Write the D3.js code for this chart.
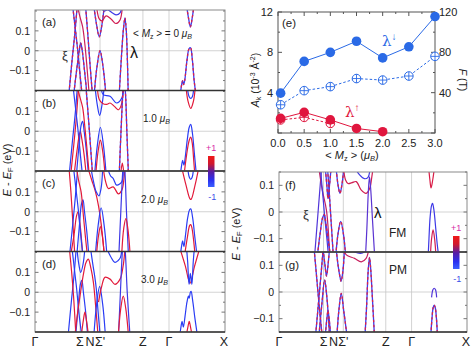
<!DOCTYPE html>
<html>
<head>
<meta charset="utf-8">
<script src="https://cdn.jsdelivr.net/npm/d3@7"></script>
<style>
  body { margin: 0; background: #fff; }
  svg text { font-family: "Liberation Sans", Arial, sans-serif; }
</style>
</head>
<body>
<div id="chart"></div>
<script>
//---------------- data ----------------
// path positions (0..100 along the k path) and labels
var kTicks = [0, 23.8, 29.1, 34.4, 57.1, 70.9, 100],
    kLabels = ['\u0393', '\u03A3', 'N', '\u03A3\'', 'Z', '\u0393', 'X'],
    kGrid = [23.8, 34.4, 57.1, 70.9];

var panelNames = ['(a)', '(b)', '(c)', '(d)'],
    momentLabels = ['0', '1.0', '2.0', '3.0'];

// bands: s = spin projection (-1 blue .. +1 red), p = [k, E(eV)]
var bandsA = [
  {s: 0, p: [[18.0,-0.21],[19.6,-0.05],[21.0,0.08],[22.3,0.22]]},
  {s: 0, p: [[20.0,0.22],[21.2,0.12],[22.4,0.02],[23.4,-0.08],[24.8,-0.21]]},
  {s: 0, p: [[20.6,-0.21],[22.0,-0.1],[23.4,0.0],[24.2,0.04],[25.0,0.0],[26.2,-0.1],[27.4,-0.21]]},
  {s: 0.7, p: [[22.6,0.22],[23.8,0.17],[25.2,0.12],[26.3,0.04],[27.3,-0.06],[28.6,-0.21]]},
  {s: 0, p: [[26.8,0.22],[28.2,0.05],[29.2,-0.08],[30.3,-0.21]]},
  {s: 0, p: [[31.4,-0.21],[32.8,-0.08],[34.4,0.0],[36.0,-0.08],[37.4,-0.21]]},
  {s: 0, p: [[31.2,0.22],[32.6,0.13],[34.0,0.07],[35.4,0.13],[36.6,0.22]]},
  {s: 0.8, p: [[32.6,0.22],[34.0,0.16],[35.4,0.15],[37.6,0.175],[40.2,0.16],[42.8,0.137],[45.0,0.155],[46.2,0.22]]},
  {s: -0.8, p: [[35.0,0.22],[36.5,0.2],[38.5,0.205],[41.0,0.19],[43.0,0.18],[45.0,0.19],[45.8,0.22]]},
  {s: -0.2, p: [[44.6,-0.21],[45.8,-0.02],[46.8,0.11],[47.6,0.165],[48.3,0.1],[49.3,-0.21]]},
  {s: 0, p: [[80.3,0.22],[81.3,0.16],[82.2,0.12],[83.1,0.16],[84.0,0.22]]},
  {s: 0, p: [[77.0,-0.21],[77.6,-0.17],[78.1,-0.15],[78.6,-0.17],[79.2,-0.15],[80.4,-0.05],[81.5,0.01],[82.3,0.015],[83.2,-0.04],[84.2,-0.15],[85.0,-0.21]]}
];

var bandsB = [
  {s: -1, p: [[18.2,-0.21],[19.8,-0.05],[21.2,0.08],[22.4,0.22]]},
  {s: 1, p: [[19.0,-0.21],[20.4,-0.08],[21.8,0.06],[23.0,0.22]]},
  {s: -1, p: [[20.2,0.22],[21.4,0.12],[22.6,0.02],[23.6,-0.08],[25.0,-0.21]]},
  {s: 1, p: [[20.8,-0.21],[22.2,-0.1],[23.4,-0.02],[24.0,0.0],[24.8,-0.04],[26.0,-0.12],[27.0,-0.21]]},
  {s: -1, p: [[22.0,-0.21],[23.2,-0.08],[24.4,0.03],[25.2,0.05],[26.0,0.0],[27.2,-0.1],[28.2,-0.21]]},
  {s: 1, p: [[22.4,0.22],[23.8,0.17],[25.2,0.12],[26.4,0.02],[27.4,-0.08],[28.6,-0.21]]},
  {s: 0, p: [[27.0,0.22],[28.4,0.05],[29.4,-0.08],[30.4,-0.21]]},
  {s: -1, p: [[31.6,-0.21],[33.0,-0.07],[34.6,0.02],[36.2,-0.07],[37.6,-0.21]]},
  {s: 1, p: [[32.2,-0.21],[33.4,-0.1],[34.6,-0.045],[35.8,-0.1],[37.0,-0.21]]},
  {s: -1, p: [[31.8,0.22],[33.0,0.13],[34.2,0.08],[35.4,0.13],[36.6,0.22]]},
  {s: 1, p: [[33.0,0.22],[34.0,0.16],[35.8,0.14],[37.9,0.135],[39.7,0.142],[42.0,0.125],[44.1,0.108],[45.6,0.13],[46.7,0.22]]},
  {s: -1, p: [[35.0,0.22],[36.1,0.184],[39.7,0.176],[43.2,0.142],[45.9,0.167],[46.7,0.22]]},
  {s: -0.3, p: [[44.6,-0.21],[45.6,0.02],[46.6,0.2],[47.2,0.24],[47.8,0.2],[48.6,0.0],[49.4,-0.21]]},
  {s: 1, p: [[45.4,-0.21],[46.2,-0.16],[47.0,-0.21]]},
  {s: -1, p: [[80.6,0.22],[81.5,0.175],[82.4,0.165],[83.3,0.175],[84.0,0.22]]},
  {s: 1, p: [[79.9,0.22],[81.0,0.15],[82.4,0.115],[83.8,0.15],[84.8,0.22]]},
  {s: -1, p: [[77.0,-0.21],[77.6,-0.17],[78.1,-0.146],[78.8,-0.17],[79.5,-0.13],[80.6,-0.04],[81.6,0.02],[82.4,0.035],[83.3,-0.01],[84.4,-0.12],[85.3,-0.21]]},
  {s: 1, p: [[79.0,-0.21],[80.2,-0.12],[81.6,-0.045],[82.4,-0.03],[83.2,-0.06],[84.0,-0.15],[84.5,-0.21]]}
];

var bandsC = [
  {s: 1, p: [[18.0,0.22],[19.0,0.1],[20.0,-0.05],[21.0,-0.21]]},
  {s: -1, p: [[18.4,-0.21],[20.0,-0.06],[21.4,0.08],[22.6,0.22]]},
  {s: 1, p: [[19.0,-0.21],[20.6,-0.12],[22.0,-0.02],[22.8,0.0],[23.8,-0.06],[25.2,-0.21]]},
  {s: -1, p: [[20.4,0.22],[21.6,0.12],[22.8,0.02],[23.8,-0.08],[25.2,-0.21]]},
  {s: -1, p: [[22.2,-0.21],[23.4,-0.08],[24.6,0.04],[25.4,0.06],[26.2,0.0],[27.4,-0.1],[28.4,-0.21]]},
  {s: 1, p: [[22.0,0.22],[23.0,0.16],[24.4,0.1],[25.6,-0.02],[26.6,-0.12],[27.6,-0.21]]},
  {s: 1, p: [[28.0,0.22],[30.0,0.16],[32.0,0.1],[33.6,0.03],[35.0,-0.06],[36.6,-0.21]]},
  {s: -1, p: [[29.6,0.22],[31.0,0.15],[32.4,0.1],[33.8,0.08],[35.0,0.12],[35.8,0.22]]},
  {s: -1, p: [[32.0,-0.21],[33.4,-0.07],[35.0,0.02],[36.6,-0.07],[38.0,-0.21]]},
  {s: 1, p: [[32.6,-0.21],[33.6,-0.12],[34.6,-0.075],[35.6,-0.12],[36.6,-0.21]]},
  {s: 1, p: [[36.1,0.22],[37.4,0.15],[38.8,0.117],[41.4,0.125],[44.1,0.09],[46.0,0.11],[47.0,0.16],[47.6,0.22]]},
  {s: -1, p: [[38.4,0.22],[40.0,0.18],[41.4,0.167],[43.2,0.134],[45.9,0.15],[46.7,0.22]]},
  {s: -0.8, p: [[44.4,-0.21],[45.4,0.0],[46.4,0.2],[47.0,0.26],[47.6,0.2],[48.4,0.0],[49.4,-0.21]]},
  {s: 1, p: [[45.9,-0.21],[47.0,-0.08],[48.1,-0.035],[49.2,-0.09],[50.3,-0.21]]},
  {s: -1, p: [[80.8,0.22],[81.6,0.175],[82.4,0.163],[83.2,0.175],[83.9,0.22]]},
  {s: 1, p: [[77.7,0.22],[80.0,0.13],[82.0,0.065],[82.6,0.062],[84.6,0.13],[86.6,0.22]]},
  {s: -1, p: [[77.0,-0.21],[77.6,-0.17],[78.1,-0.146],[78.8,-0.175],[79.6,-0.12],[80.8,-0.03],[81.8,0.01],[82.4,0.015],[83.4,-0.03],[84.6,-0.13],[85.6,-0.21]]},
  {s: 1, p: [[79.3,-0.21],[80.6,-0.13],[81.8,-0.07],[82.4,-0.065],[83.0,-0.08],[84.0,-0.15],[84.6,-0.21]]}
];

var bandsD = [
  {s: -1, p: [[17.6,-0.21],[19.2,-0.05],[20.6,0.08],[21.8,0.22]]},
  {s: 1, p: [[18.2,0.22],[19.4,0.1],[20.4,-0.02],[21.6,-0.21]]},
  {s: -1, p: [[19.6,0.22],[20.8,0.12],[22.0,0.02],[23.2,-0.1],[24.6,-0.21]]},
  {s: -1, p: [[21.6,-0.21],[22.8,-0.08],[24.0,0.04],[24.8,0.06],[25.6,0.0],[26.8,-0.1],[27.8,-0.21]]},
  {s: -1, p: [[22.2,0.22],[23.2,0.14],[24.2,0.1],[25.4,0.14],[26.4,0.22]]},
  {s: 1, p: [[21.2,-0.21],[22.6,-0.1],[23.8,-0.02],[25.6,0.09],[27.0,0.15],[28.2,0.167],[29.6,0.12],[30.9,0.05],[32.0,-0.06],[33.3,-0.21]]},
  {s: 1, p: [[24.6,-0.21],[25.6,-0.14],[26.4,-0.1],[27.2,-0.14],[28.2,-0.21]]},
  {s: -1, p: [[29.4,0.22],[30.6,0.14],[31.6,0.08],[32.4,0.02],[33.4,-0.1],[34.4,-0.21]]},
  {s: -1, p: [[31.2,-0.21],[32.6,-0.06],[34.2,0.03],[35.8,-0.06],[37.2,-0.21]]},
  {s: 1, p: [[33.6,-0.05],[35.3,0.03],[37.0,0.075],[39.7,0.066],[42.3,0.04],[45.0,0.066],[46.6,0.13],[47.6,0.22]]},
  {s: -1, p: [[38.0,0.22],[40.0,0.18],[42.3,0.15],[44.0,0.16],[45.2,0.175],[46.0,0.22]]},
  {s: -0.8, p: [[44.2,-0.21],[45.2,0.0],[46.2,0.2],[47.0,0.28],[47.8,0.2],[48.8,0.0],[50.2,-0.21]]},
  {s: 1, p: [[44.1,-0.21],[45.4,-0.08],[46.7,-0.02],[48.0,-0.08],[49.4,-0.21]]},
  {s: 1, p: [[76.7,0.22],[79.6,0.13],[82.0,0.045],[84.4,0.13],[87.1,0.22]]},
  {s: -1, p: [[80.2,0.22],[80.8,0.15],[81.5,0.04],[82.2,0.095],[83.0,0.04],[83.7,0.15],[84.3,0.22]]},
  {s: -1, p: [[76.7,-0.21],[77.3,-0.17],[77.8,-0.146],[78.5,-0.175],[79.4,-0.12],[80.4,-0.05],[81.2,-0.02],[81.6,-0.03],[82.2,0.0],[82.6,0.005],[83.4,-0.04],[84.6,-0.13],[85.8,-0.21]]},
  {s: 1, p: [[80.2,-0.21],[81.0,-0.17],[81.6,-0.146],[82.2,-0.17],[83.0,-0.21]]}
];

var bandsF = [
  {s: -0.6, p: [[19.1,-0.16],[20.9,0.0],[22.7,0.16]]},
  {s: 0.6, p: [[21.4,0.16],[23.2,0.08],[25.4,0.005],[27.1,-0.16]]},
  {s: -0.7, p: [[22.2,0.16],[23.6,0.05],[24.6,-0.03],[25.6,-0.1],[26.4,-0.16]]},
  {s: 0, p: [[20.6,-0.16],[22.0,-0.08],[23.4,-0.02],[24.2,-0.01],[25.2,-0.05],[26.6,-0.12],[27.4,-0.16]]},
  {s: -0.2, p: [[24.8,0.16],[25.6,0.1],[26.2,0.05],[27.0,0.1],[27.8,0.16]]},
  {s: 0.2, p: [[26.0,0.16],[27.0,0.06],[28.0,-0.05],[29.0,-0.16]]},
  {s: 0, p: [[30.4,-0.16],[31.6,-0.08],[33.0,-0.035],[34.4,-0.08],[35.6,-0.16]]},
  {s: -0.3, p: [[30.6,0.16],[31.6,0.1],[32.6,0.07],[33.6,0.1],[34.6,0.16]]},
  {s: 0.8, p: [[34.6,0.16],[35.6,0.12],[36.9,0.107],[39.0,0.11],[41.3,0.114],[44.0,0.082],[46.6,0.07],[48.6,0.09],[49.6,0.13],[50.2,0.16]]},
  {s: -0.8, p: [[41.0,0.16],[43.0,0.14],[45.6,0.125],[47.6,0.13],[48.6,0.16]]},
  {s: -0.5, p: [[46.3,-0.16],[47.0,-0.06],[47.8,0.08],[48.4,0.132],[49.0,0.09],[50.0,-0.03],[51.1,-0.16]]},
  {s: 0.9, p: [[80.1,0.16],[80.7,0.12],[81.3,0.09],[82.2,0.12],[83.0,0.16]]},
  {s: -0.8, p: [[79.8,-0.16],[80.2,-0.1],[80.8,-0.02],[81.6,0.025],[82.1,0.032],[82.8,0.01],[83.8,-0.06],[84.6,-0.12],[85.3,-0.16]]},
  {s: 0.8, p: [[81.0,-0.16],[81.6,-0.1],[82.4,-0.067],[83.2,-0.1],[83.9,-0.16]]}
];

var bandsG = [
  {s: 0, p: [[18.8,0.16],[20.2,0.05],[21.6,-0.06],[23.0,-0.16]]},
  {s: 0, p: [[19.6,-0.16],[21.0,-0.05],[22.4,0.06],[23.6,0.16]]},
  {s: 0.2, p: [[21.4,-0.16],[23.0,-0.04],[24.4,0.045],[25.6,-0.02],[27.0,-0.16]]},
  {s: 0, p: [[23.6,0.16],[24.6,0.1],[25.4,0.06],[26.2,0.1],[27.0,0.16]]},
  {s: 0, p: [[24.8,-0.16],[25.6,-0.1],[26.2,-0.07],[26.8,-0.1],[27.6,-0.16]]},
  {s: 0, p: [[31.0,-0.16],[32.0,-0.07],[33.3,-0.005],[34.6,-0.07],[36.3,-0.16]]},
  {s: 0, p: [[30.6,0.16],[31.6,0.1],[32.8,0.05],[33.2,0.04],[34.2,0.08],[35.0,0.16]]},
  {s: 0.7, p: [[34.8,0.16],[36.0,0.139],[40.4,0.126],[44.0,0.113],[46.6,0.126],[48.0,0.16]]},
  {s: -0.7, p: [[38.0,0.16],[40.4,0.15],[43.6,0.145],[45.6,0.15],[46.6,0.16]]},
  {s: -0.3, p: [[46.0,-0.16],[46.8,-0.06],[47.7,0.08],[48.4,0.13],[49.0,0.09],[50.0,-0.03],[51.0,-0.16]]},
  {s: -0.6, p: [[81.6,-0.02],[82.3,0.008],[83.0,0.014],[83.7,0.008],[84.3,-0.02]]},
  {s: -0.3, p: [[81.2,-0.16],[81.8,-0.1],[82.4,-0.06],[83.0,-0.049],[83.6,-0.06],[84.2,-0.1],[84.7,-0.16]]}
];

// panel (e): Fermi surface area A_k (1e-3 A^-2) vs <Mz>
var mzDown = [0.05, 0.5, 1.0, 1.5, 2.0, 2.5, 3.0],
    akDown = [3.95, 7.1, 8.0, 9.1, 7.45, 8.55, 11.55],
    akDownPM = [2.8, 4.2, 4.6, 5.4, 5.25, 5.65, 7.6],
    mzUp = [0.05, 0.5, 1.0, 1.5, 2.0],
    akUp = [1.45, 2.05, 1.3, 0.45, 0.13],
    mzUpPM = [0.05, 0.5, 1.0],
    akUpPM = [1.3, 1.55, 0.95];
var eXTicks = [0, 0.5, 1.0, 1.5, 2.0, 2.5, 3.0],
    eYTicks = [4, 8, 12],
    fTicks = [40, 80, 120];

//---------------- drawing ----------------
var W = 474, H = 351;
var svg = d3.select('#chart').append('svg')
    .attr('width', W).attr('height', H);
var defs = svg.append('defs');

var blue = '#2f3cf2', red = '#e2183a', magenta = '#d62aa6';
var spinColor = d3.scaleLinear().domain([-1, 0, 1])
    .range(['#2a3cf4', '#8a2ab0', '#e21a3a']);

var grad = defs.append('linearGradient').attr('id', 'cbar')
    .attr('x1', 0).attr('y1', 0).attr('x2', 0).attr('y2', 1);
grad.append('stop').attr('offset', '0%').attr('stop-color', '#f01818');
grad.append('stop').attr('offset', '25%').attr('stop-color', '#d0182e');
grad.append('stop').attr('offset', '50%').attr('stop-color', '#5a1ca0');
grad.append('stop').attr('offset', '78%').attr('stop-color', '#2a30f0');
grad.append('stop').attr('offset', '100%').attr('stop-color', '#3a60ff');

var clipCount = 0;

function drawBandPanel(bands, x0, x1, top, bottom, eDomain, eTicks, eMinor, isFirst) {
    var kx = d3.scaleLinear().domain([0, 100]).range([x0, x1 - 1]);
    var ey = d3.scaleLinear().domain(eDomain).range([bottom, top]);
    var g = svg.append('g');
    var id = 'clip' + (clipCount++);
    defs.append('clipPath').attr('id', id).append('rect')
        .attr('x', x0).attr('y', top).attr('width', x1 - x0).attr('height', bottom - top);

    // grid
    g.append('line').attr('x1', x0).attr('x2', x1)
        .attr('y1', ey(0)).attr('y2', ey(0))
        .attr('stroke', '#c8c8c8').attr('stroke-width', 0.8);
    kGrid.forEach(function(k) {
        g.append('line').attr('x1', kx(k)).attr('x2', kx(k))
            .attr('y1', top).attr('y2', bottom)
            .attr('stroke', '#c8c8c8').attr('stroke-width', 0.8);
    });

    var line = d3.line()
        .x(function(d) { return kx(d[0]); })
        .y(function(d) { return ey(d[1]); })
        .curve(d3.curveCatmullRom.alpha(0.5));

    var bg = g.append('g').attr('clip-path', 'url(#' + id + ')');
    bands.forEach(function(b) {
        if (Math.abs(b.s) < 0.35) {
            bg.append('path').attr('d', line(b.p)).attr('fill', 'none')
                .attr('stroke', '#3a3cf0').attr('stroke-width', 1.3);
            bg.append('path').attr('d', line(b.p)).attr('fill', 'none')
                .attr('stroke', '#dc2048').attr('stroke-width', 1.3)
                .attr('stroke-dasharray', '2.5,2.5');
        } else {
            bg.append('path').attr('d', line(b.p)).attr('fill', 'none')
                .attr('stroke', spinColor(b.s)).attr('stroke-width', 1.2);
        }
    });

    // frame
    g.append('rect').attr('x', x0).attr('y', top)
        .attr('width', x1 - x0).attr('height', bottom - top)
        .attr('fill', 'none').attr('stroke', '#8a8a8a').attr('stroke-width', 1);

    // ticks left and right
    eMinor.forEach(function(e) {
        var major = eTicks.indexOf(e) >= 0;
        var len = major ? 3.5 : 2;
        g.append('line').attr('x1', x0).attr('x2', x0 + len)
            .attr('y1', ey(e)).attr('y2', ey(e)).attr('stroke', '#777');
        g.append('line').attr('x1', x1).attr('x2', x1 - len)
            .attr('y1', ey(e)).attr('y2', ey(e)).attr('stroke', '#777');
    });
    eTicks.forEach(function(e) {
        g.append('text').attr('x', x0 - 5).attr('y', ey(e) + 3.8)
            .attr('text-anchor', 'end').attr('font-size', 10.5).attr('fill', '#222')
            .text(e === 0 ? '0' : d3.format('.1f')(e));
    });
    return {g: g, kx: kx, ey: ey};
}

// left stack
var lx0 = 35, lx1 = 225, lTops = [10, 90.5, 171, 251.5], lH = 80.5;
var leftBands = [bandsA, bandsB, bandsC, bandsD];
var leftMinor = [-0.15, -0.1, -0.05, 0, 0.05, 0.1, 0.15, 0.2];
var leftPanels = leftBands.map(function(b, i) {
    return drawBandPanel(b, lx0, lx1, lTops[i], lTops[i] + lH, [-0.2, 0.205],
        [-0.1, 0, 0.1], leftMinor, i === 0);
});
// dark separators
[90.5, 171, 251.5, 332].forEach(function(y) {
    svg.append('line').attr('x1', lx0).attr('x2', lx1).attr('y1', y).attr('y2', y)
        .attr('stroke', '#333').attr('stroke-width', 1.4);
});
leftPanels.forEach(function(p, i) {
    svg.append('text').attr('x', 42).attr('y', lTops[i] + 16)
        .attr('font-size', 11.5).attr('fill', '#222').text(panelNames[i]);
});

function momentText(x, y, val, full) {
    var t = svg.append('text').attr('x', x).attr('y', y).attr('font-size', 10).attr('fill', '#222');
    if (full) {
        t.append('tspan').text('< ');
        t.append('tspan').attr('font-style', 'italic').text('M');
        t.append('tspan').attr('font-size', 7).attr('dy', 2).text('z');
        t.append('tspan').attr('dy', -2).text(' > = ' + val + ' ');
    } else {
        t.append('tspan').text(val + ' ');
    }
    t.append('tspan').attr('font-style', 'italic').text('\u03BC');
    t.append('tspan').attr('font-size', 7).attr('font-style', 'italic').attr('dy', 2).text('B');
}
momentText(133, 37, momentLabels[0], true);
momentText(143, 122, momentLabels[1], false);
momentText(141, 203, momentLabels[2], false);
momentText(141, 283, momentLabels[3], false);

svg.append('text').attr('x', 130).attr('y', 58).attr('font-size', 16)
    .attr('font-family', 'DejaVu Sans').attr('fill', '#111').text('\u03BB');
svg.append('text').attr('x', 62).attr('y', 60).attr('font-size', 13)
    .attr('font-family', 'DejaVu Serif').attr('fill', '#333').text('\u03BE');

// k labels
function kAxisLabels(kx, y) {
    kTicks.forEach(function(k, i) {
        svg.append('text').attr('x', kx(k)).attr('y', y)
            .attr('text-anchor', 'middle').attr('font-size', 12.5).attr('fill', '#222')
            .text(kLabels[i]);
    });
}
kAxisLabels(leftPanels[0].kx, 346);

function eLabel(x, y) {
    var t = svg.append('text').attr('transform', 'translate(' + x + ',' + y + ') rotate(-90)')
        .attr('text-anchor', 'middle').attr('font-size', 11).attr('fill', '#222');
    t.append('tspan').attr('font-style', 'italic').text('E');
    t.append('tspan').text(' - ');
    t.append('tspan').attr('font-style', 'italic').text('E');
    t.append('tspan').attr('font-size', 7.5).attr('dy', 2).text('F');
    t.append('tspan').attr('dy', -2).text(' (eV)');
}
eLabel(11, 170);

function colorBar(x, y, w, h) {
    svg.append('rect').attr('x', x).attr('y', y).attr('width', w).attr('height', h)
        .attr('fill', 'url(#cbar)');
    svg.append('text').attr('x', x + w / 2).attr('y', y - 5).attr('text-anchor', 'middle')
        .attr('font-size', 9).attr('fill', magenta).text('+1');
    svg.append('text').attr('x', x + w / 2 + 1).attr('y', y + h + 13).attr('text-anchor', 'middle')
        .attr('font-size', 9).attr('fill', '#3a50e8').text('-1');
}
colorBar(208, 156, 6.5, 31);

// right bottom (f),(g)
var rx0 = 279, rx1 = 467, rTops = [172, 252], rH = 80;
var rightMinor = [-0.15, -0.1, -0.05, 0, 0.05, 0.1, 0.15];
var rightPanels = [bandsF, bandsG].map(function(b, i) {
    return drawBandPanel(b, rx0, rx1, rTops[i], rTops[i] + rH, [-0.15, 0.15],
        [-0.1, 0, 0.1], rightMinor, i === 0);
});
[252, 332].forEach(function(y) {
    svg.append('line').attr('x1', rx0).attr('x2', rx1).attr('y1', y).attr('y2', y)
        .attr('stroke', '#333').attr('stroke-width', 1.4);
});
svg.append('text').attr('x', 285).attr('y', 189).attr('font-size', 11.5).attr('fill', '#222').text('(f)');
svg.append('text').attr('x', 285).attr('y', 269).attr('font-size', 11.5).attr('fill', '#222').text('(g)');
svg.append('text').attr('x', 303).attr('y', 219).attr('font-size', 13)
    .attr('font-family', 'DejaVu Serif').attr('fill', '#333').text('\u03BE');
svg.append('text').attr('x', 374).attr('y', 218).attr('font-size', 15)
    .attr('font-family', 'DejaVu Sans').attr('fill', '#111').text('\u03BB');
svg.append('text').attr('x', 389).attr('y', 237).attr('font-size', 12).attr('fill', '#222').text('FM');
svg.append('text').attr('x', 389).attr('y', 274).attr('font-size', 12).attr('fill', '#222').text('PM');
colorBar(453, 236, 6.5, 33);
kAxisLabels(rightPanels[0].kx, 346);
eLabel(240, 234);

// panel (e)
var ex0 = 278, ex1 = 435, eTop = 12, eBot = 133;
var exS = d3.scaleLinear().domain([0, 3]).range([ex0, ex1]);
var eyS = d3.scaleLinear().domain([0, 12]).range([eBot, eTop]);
var eg = svg.append('g');
eg.append('rect').attr('x', ex0).attr('y', eTop).attr('width', ex1 - ex0).attr('height', eBot - eTop)
    .attr('fill', 'none').attr('stroke', '#555').attr('stroke-width', 1);
d3.range(0, 3.01, 0.25).forEach(function(v, i) {
    var len = i % 2 === 0 ? 4 : 2;
    eg.append('line').attr('x1', exS(v)).attr('x2', exS(v)).attr('y1', eBot).attr('y2', eBot - len).attr('stroke', '#555');
    eg.append('line').attr('x1', exS(v)).attr('x2', exS(v)).attr('y1', eTop).attr('y2', eTop + len).attr('stroke', '#555');
});
d3.range(0, 12.01, 2).forEach(function(v, i) {
    var len = i % 2 === 0 ? 4 : 2;
    eg.append('line').attr('x1', ex0).attr('x2', ex0 + len).attr('y1', eyS(v)).attr('y2', eyS(v)).attr('stroke', '#555');
    eg.append('line').attr('x1', ex1).attr('x2', ex1 - len).attr('y1', eyS(v)).attr('y2', eyS(v)).attr('stroke', '#555');
});
eXTicks.forEach(function(v) {
    eg.append('text').attr('x', exS(v)).attr('y', 147).attr('text-anchor', 'middle')
        .attr('font-size', 11).attr('fill', '#222').text(d3.format('.1f')(v));
});
eYTicks.forEach(function(v) {
    eg.append('text').attr('x', ex0 - 5).attr('y', eyS(v) + 4).attr('text-anchor', 'end')
        .attr('font-size', 11).attr('fill', '#222').text(v);
});
fTicks.forEach(function(v) {
    eg.append('text').attr('x', ex1 + 4).attr('y', eyS(v / 10) + 4)
        .attr('font-size', 11).attr('fill', '#222').text(v);
});
eg.append('text').attr('x', 282).attr('y', 27).attr('font-size', 11.5).attr('fill', '#222').text('(e)');

var yl = eg.append('text').attr('transform', 'translate(259,80) rotate(-90)')
    .attr('text-anchor', 'middle').attr('font-size', 10.5).attr('fill', '#222');
yl.append('tspan').attr('font-style', 'italic').text('A');
yl.append('tspan').attr('font-size', 7).attr('dy', 2).text('k');
yl.append('tspan').attr('dy', -2).text(' (10');
yl.append('tspan').attr('font-size', 7).attr('dy', -4).text('-3');
yl.append('tspan').attr('dy', 4).text(' \u00C5');
yl.append('tspan').attr('font-size', 7).attr('dy', -4).text('-2');
yl.append('tspan').attr('dy', 4).text(')');

var fl = eg.append('text').attr('transform', 'translate(459,80) rotate(90)')
    .attr('text-anchor', 'middle').attr('font-size', 10.5).attr('fill', '#222');
fl.append('tspan').attr('font-style', 'italic').text('F');
fl.append('tspan').text(' (T)');

var xl = eg.append('text').attr('x', 352).attr('y', 159).attr('text-anchor', 'middle')
    .attr('font-size', 11).attr('fill', '#222');
xl.append('tspan').text('< ');
xl.append('tspan').attr('font-style', 'italic').text('M');
xl.append('tspan').attr('font-size', 7.5).attr('dy', 2).text('z');
xl.append('tspan').attr('dy', -2).text(' > (');
xl.append('tspan').attr('font-style', 'italic').text('\u03BC');
xl.append('tspan').attr('font-size', 7.5).attr('font-style', 'italic').attr('dy', 2).text('B');
xl.append('tspan').attr('dy', -2).text(')');

function series(xs, ys, color, dashed, open) {
    var pts = xs.map(function(x, i) { return [x, ys[i]]; });
    var ln = d3.line().x(function(d) { return exS(d[0]); }).y(function(d) { return eyS(d[1]); });
    eg.append('path').attr('d', ln(pts)).attr('fill', 'none').attr('stroke', color)
        .attr('stroke-width', 1).attr('stroke-dasharray', dashed ? '2.5,2' : null);
    pts.forEach(function(d) {
        var cx = exS(d[0]), cy = eyS(d[1]);
        if (open) {
            eg.append('circle').attr('cx', cx).attr('cy', cy).attr('r', 4.3)
                .attr('fill', '#fff').attr('stroke', color).attr('stroke-width', 1);
            eg.append('path').attr('d', 'M' + (cx - 4.3) + ',' + cy + 'H' + (cx + 4.3) + 'M' + cx + ',' + (cy - 4.3) + 'V' + (cy + 4.3))
                .attr('stroke', color).attr('stroke-width', 0.9);
        } else {
            eg.append('circle').attr('cx', cx).attr('cy', cy).attr('r', 4.8)
                .attr('fill', color);
        }
    });
}
var eBlue = '#2a6ae6', eRed = '#e0163e';
series(mzDown, akDownPM, eBlue, true, true);
series(mzDown, akDown, eBlue, false, false);
series(mzUpPM, akUpPM, eRed, true, true);
series(mzUp, akUp, eRed, false, false);

var ld = eg.append('text').attr('x', 382).attr('y', 46).attr('font-size', 15).attr('fill', eBlue);
ld.append('tspan').attr('font-family', 'DejaVu Serif').text('\u03BB');
ld.append('tspan').attr('font-size', 10).attr('dy', -6).text('\u2193');
var lu = eg.append('text').attr('x', 345).attr('y', 117).attr('font-size', 15).attr('fill', eRed);
lu.append('tspan').attr('font-family', 'DejaVu Serif').text('\u03BB');
lu.append('tspan').attr('font-size', 10).attr('dy', -6).text('\u2191');
</script>
</body>
</html>
